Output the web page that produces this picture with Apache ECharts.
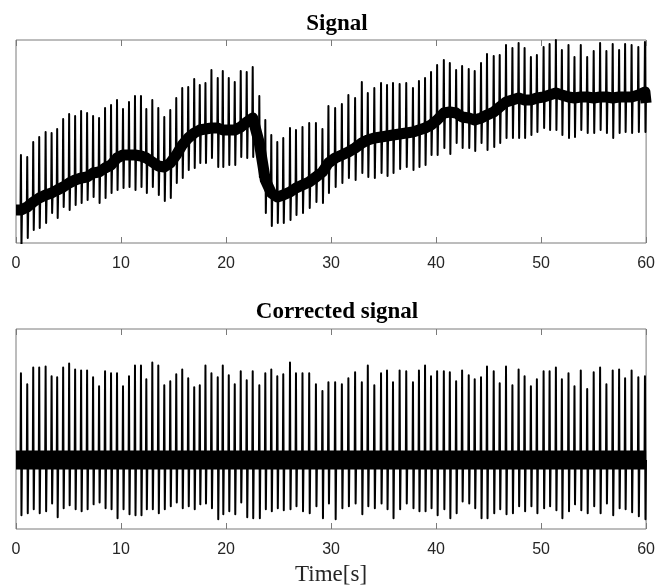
<!DOCTYPE html>
<html><head><meta charset="utf-8">
<script src="https://cdn.jsdelivr.net/npm/echarts@6/dist/echarts.min.js"></script>
<style>html,body{margin:0;padding:0;background:#fff}#c{width:658px;height:587px}</style>
</head><body><div id="c"></div>
<script>
// ---- data (arbitrary signal units) ----
const xTicks = [0, 10, 20, 30, 40, 50, 60];
const beatTimes = [0.47,1.07,1.64,2.21,2.82,3.39,3.92,4.49,5.06,5.63,6.20,6.77,7.34,7.91,8.48,9.05,9.62,10.19,10.76,11.33,11.90,12.41,12.98,13.55,14.12,14.69,15.26,15.83,16.40,16.97,17.50,18.04,18.61,19.21,
19.69,20.26,20.83,21.40,21.97,22.54,23.17,23.74,24.31,24.88,25.45,26.09,26.66,27.28,27.92,28.56,29.18,29.75,30.39,31.03,31.65,32.29,32.93,33.50,34.12,34.76,35.33,35.90,36.53,37.16,37.80,38.37,38.95,
39.52,40.10,40.74,41.31,41.91,42.48,43.11,43.68,44.28,44.85,45.49,46.06,46.66,47.27,47.86,48.43,49.03,49.60,50.24,50.81,51.41,51.98,52.61,53.18,53.78,54.39,55.01,55.62,56.22,56.82,57.43,58.00,58.62,59.26,59.89];
// raw signal: R-peak tops, S-trough bottoms and the wandering baseline at each beat
const rawPeak = [88,86,101,106,111,110,114,124,129,127,132,130,127,125,135,138,143,134,141,147,147,134,143,135,126,133,145,155,156,164,158,160,173,165,
172,165,161,172,171,176,147,123,108,101,105,115,113,116,120,120,114,137,135,139,148,145,161,150,155,160,158,160,159,160,155,162,165,
171,178,183,180,173,177,174,172,180,189,187,188,198,195,200,195,186,188,196,199,203,193,198,186,198,186,192,200,192,199,193,199,198,196,201];
const rawTrough = [-3,5,13,15,20,30,25,36,33,38,40,43,46,40,45,50,53,55,56,53,56,50,56,48,42,45,60,65,73,75,80,80,85,76,
76,78,78,86,85,86,66,30,17,20,20,23,28,30,35,41,40,50,56,60,65,63,70,66,65,70,67,70,74,76,73,76,78,
88,88,95,89,100,95,95,92,100,93,96,100,105,105,105,105,108,111,115,113,113,108,105,106,113,110,110,113,110,105,110,111,110,111,111];
const rawBase = [33,36,41,45,48,50,53,56,60,63,65,66,70,71,75,78,85,88,88,88,87,85,81,77,76,80,88,98,105,110,113,114,115,115,
113,113,113,116,121,125,100,63,50,46,48,51,55,58,61,66,71,80,85,88,91,95,100,103,105,106,107,108,109,110,111,113,115,
118,123,130,131,130,126,125,123,125,128,131,136,141,143,145,143,143,145,146,148,150,148,146,145,146,146,145,146,146,145,146,146,146,148,151];
const rawStart = 33, rawEnd = 140;
// corrected signal
const corrPeak = [158,147,164,164,165,155,154,164,168,162,161,161,154,145,160,158,158,145,155,166,166,152,169,166,146,150,157,162,153,144,146,166,158,154,
166,156,147,160,151,160,146,158,162,155,157,169,158,158,158,147,140,149,149,147,153,159,149,166,146,158,161,149,161,160,149,161,166,
155,160,160,159,150,161,156,152,154,165,160,148,165,146,162,155,145,152,160,160,164,152,158,145,161,142,159,164,147,161,162,153,161,154,155];
const corrTrough = [14,16,20,16,18,26,12,21,24,20,18,20,25,27,21,20,11,20,15,14,14,20,20,16,20,23,27,21,23,20,25,26,21,10,
15,18,15,27,12,11,11,20,18,21,19,20,23,18,16,23,11,26,10,21,23,26,15,23,21,26,20,11,20,26,21,18,18,
21,14,20,11,16,28,26,21,11,11,16,20,15,16,23,18,23,16,21,23,19,11,18,25,19,16,23,16,26,14,21,20,17,13,10];
const corrBase = 70;
const yRange = [0, 203];

// ---- build line data from the arrays ----
function spikes(peaks, troughs, baseOf, startV, endV) {
  const pts = [[0, startV]];
  beatTimes.forEach((t, i) => {
    const b = baseOf(i);
    pts.push([t - 0.04, b], [t, peaks[i]], [t + 0.05, troughs[i]], [t + 0.1, b]);
  });
  pts.push([60, endV]);
  return pts;
}
const rawLine = spikes(rawPeak, rawTrough, i => rawBase[i], rawStart, rawEnd);
const rawBand = [[0, rawStart]].concat(beatTimes.map((t, i) => [t, rawBase[i]]), [[60, rawEnd]]);
const corrLine = spikes(corrPeak, corrTrough, () => corrBase, corrBase, corrBase);
const corrBand = [[0, corrBase]].concat(beatTimes.map(t => [t, corrBase]), [[60, corrBase]]);

const frame = '#7a7a7a';
const sans = 'Liberation Sans, Arial, sans-serif';
const serif = 'Liberation Serif, Times New Roman, serif';
function xAx(grid, pos, labels, extra) {
  return Object.assign({
    gridIndex: grid, type: 'value', min: xTicks[0], max: xTicks[xTicks.length - 1], interval: 10, position: pos,
    axisLine: {show: false}, splitLine: {show: false},
    axisTick: {inside: true, length: 6, lineStyle: {color: frame, width: 1}},
    axisLabel: {show: labels, margin: 13, fontSize: 16, color: '#262626', fontFamily: sans}
  }, extra || {});
}
function yAx(grid) { return {gridIndex: grid, type: 'value', min: yRange[0], max: yRange[1], show: false}; }
function lineS(name, data, xi, width) {
  return {name, type: 'line', xAxisIndex: xi, yAxisIndex: xi < 2 ? 0 : 1, data, showSymbol: false, symbol: 'none',
    sampling: 'none', clip: true, animation: false, silent: true,
    lineStyle: {color: '#000', width, join: 'round', cap: 'butt'}};
}

const chart = echarts.init(document.getElementById('c'), null, {renderer: 'canvas'});
chart.setOption({
  backgroundColor: '#fff',
  animation: false,
  title: [
    {text: 'Signal', left: 332, top: 8, textAlign: 'center',
     textStyle: {fontFamily: serif, fontWeight: 'bold', fontSize: 23, color: '#000'}},
    {text: 'Corrected signal', left: 332, top: 296, textAlign: 'center',
     textStyle: {fontFamily: serif, fontWeight: 'bold', fontSize: 23, color: '#000'}}
  ],
  grid: [
    {left: 16, right: 10, top: 40, height: 203, show: true, borderColor: frame, borderWidth: 1},
    {left: 16, right: 10, top: 329, height: 204, show: true, borderColor: frame, borderWidth: 1}
  ],
  xAxis: [
    xAx(0, 'bottom', true), xAx(0, 'top', false),
    xAx(1, 'bottom', true, {name: 'Time[s]', nameLocation: 'middle', nameGap: 34,
      nameTextStyle: {fontFamily: serif, fontSize: 23, color: '#262626'}}),
    xAx(1, 'top', false)
  ],
  yAxis: [yAx(0), yAx(1)],
  series: [
    lineS('Signal baseline', rawBand, 0, 11),
    lineS('Signal', rawLine, 0, 2),
    lineS('Corrected baseline', corrBand, 2, 19),
    lineS('Corrected signal', corrLine, 2, 2)
  ]
});
</script></body></html>
